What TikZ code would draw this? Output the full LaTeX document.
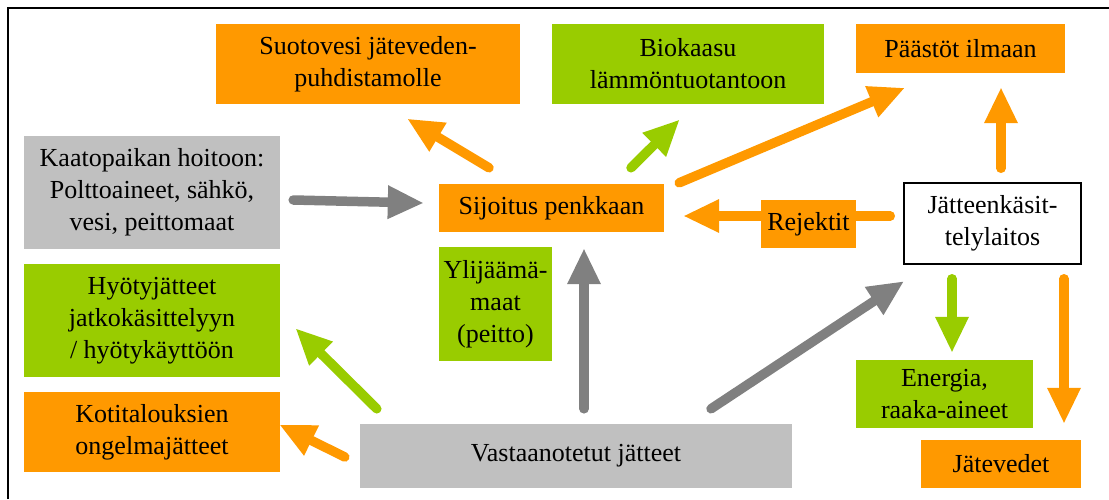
\documentclass[tikz,border=0pt]{standalone}
\usepackage{fontspec}
\setmainfont{Liberation Serif}
\usetikzlibrary{arrows.meta,calc,backgrounds}
\definecolor{corange}{RGB}{255,153,0}
\definecolor{cgreen}{RGB}{153,204,0}
\definecolor{cgray}{RGB}{192,192,192}
\definecolor{cdgray}{RGB}{128,128,128}
\tikzset{
  box/.style={inner sep=0pt, align=center, anchor=center,
    font=\fontsize{26}{32}\selectfont},
  obox/.style={box, fill=corange},
  gbox/.style={box, fill=cgreen},
  ybox/.style={box, fill=cgray},
  wbox/.style={box, fill=white, draw=black, line width=1.5pt},
  arr/.style={line width=9.5pt, line cap=round,
    -{Triangle[length=35pt,width=34pt,line width=0pt]}},
  oarr/.style={arr, draw=corange},
  garr/.style={arr, draw=cgreen},
  darr/.style={arr, draw=cdgray},
}
\begin{document}
\begin{tikzpicture}[x=1pt,y=-1pt]
\useasboundingbox (0,0) rectangle (1109,499);
\draw[line width=1.5pt] (8,499) -- (8,8) -- (1109,8);

\node[obox, minimum width=304pt, minimum height=80pt] (suo) at (368,64) {Suotovesi jäteveden-\\puhdistamolle};
\node[gbox, minimum width=272pt, minimum height=80pt] (bio) at (688,64) {Biokaasu\\lämmöntuotantoon};
\node[obox, minimum width=209pt, minimum height=49pt] (paa) at (960.5,48.5) {Päästöt ilmaan};
\node[ybox, minimum width=256pt, minimum height=113pt] (kaa) at (152,192.5) {Kaatopaikan hoitoon:\\Polttoaineet, sähkö,\\vesi, peittomaat};
\node[obox, minimum width=225pt, minimum height=48pt] (sij) at (551.5,208) {Sijoitus penkkaan};
\node[obox, minimum width=95pt, minimum height=48pt] (rej) at (808.5,224) {Rejektit};
\node[wbox, minimum width=177pt, minimum height=81pt] (jat) at (992.5,223.5) {Jätteenkäsit-\\telylaitos};
\node[gbox, minimum width=113pt, minimum height=114pt] (yli) at (495.5,304) {Ylijäämä-\\maat\\(peitto)};
\node[gbox, minimum width=256pt, minimum height=113pt] (hyo) at (152,320.5) {Hyötyjätteet\\jatkokäsittelyyn\\/ hyötykäyttöön};
\node[obox, minimum width=256pt, minimum height=80pt] (kot) at (152,432) {Kotitalouksien\\ongelmajätteet};
\node[ybox, minimum width=432pt, minimum height=64pt] (vas) at (576,456) {Vastaanotetut jätteet};
\node[gbox, minimum width=177pt, minimum height=68pt] (ene) at (944.5,394) {Energia,\\raaka-aineet};
\node[obox, minimum width=160pt, minimum height=48pt] (jtv) at (1001,464) {Jätevedet};

\begin{scope}[on background layer]
\draw[oarr] ($(sij.north)+(-62.5,-16)$) -- ($(suo.south)+(40,15)$);
\draw[garr] ($(sij.north)+(79.5,-16)$) -- ($(bio.south)+(-9,16)$);
\draw[oarr] ($(sij.north east)+(15,-1)$) -- ($(paa.south)+(-56.5,15)$);
\draw[oarr] ($(jat.north)+(8.5,-14)$) -- ($(paa.south)+(40.5,15)$);
\draw[oarr] ($(jat.west)+(-13,-7.5)$) -- ($(sij.east)+(20,8)$);
\draw[darr] ($(kaa.east)+(13,7.5)$) -- ($(sij.west)+(-16,-5)$);
\draw[darr] ($(vas.north)+(8,-15)$) -- ($(sij.south)+(32.5,17)$);
\draw[darr] ($(vas.north)+(135,-15)$) -- ($(jat.south west)+(0,17)$);
\draw[garr] ($(vas.north west)+(17,-15)$) -- ($(hyo.east)+(16,8.5)$);
\draw[oarr] ($(vas.west)+(-15,1)$) -- ($(kot.east)+(0,-7)$);
\draw[garr] ($(jat.south)+(-40.5,14)$) -- ($(ene.north)+(7.5,-8)$);
\draw[oarr] ($(jat.south)+(71.5,14)$) -- ($(jtv.north)+(63,-17)$);
\end{scope}
\end{tikzpicture}
\end{document}
